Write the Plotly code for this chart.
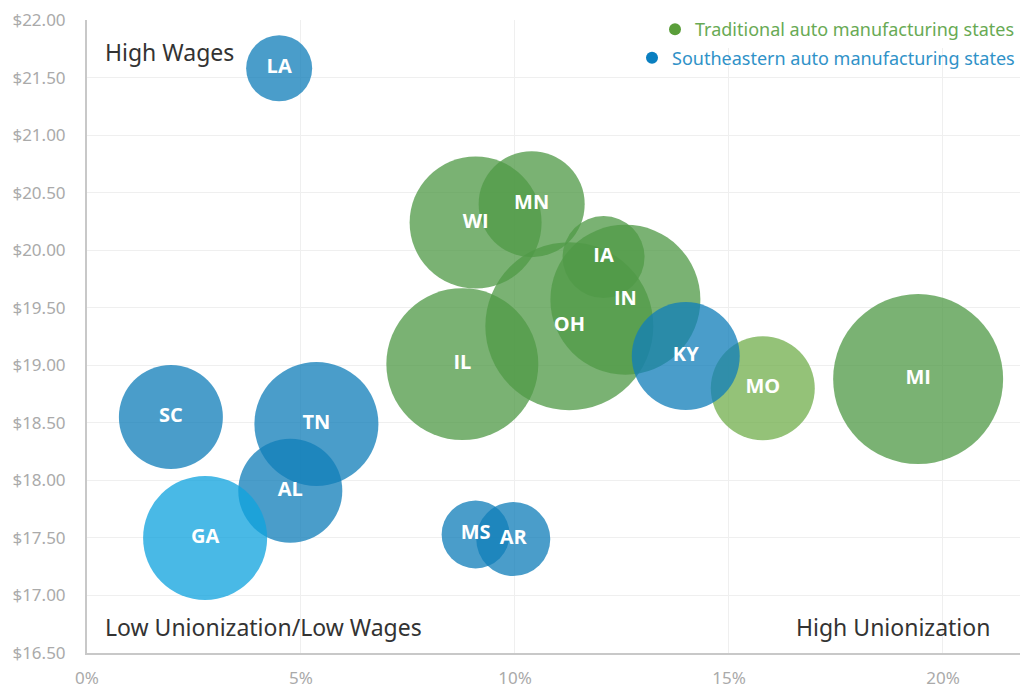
import plotly.graph_objects as go

# Traditional auto manufacturing states
trad_states = ["IL", "OH", "WI", "MN", "IA", "IN", "MO", "MI"]
trad_union = [8.77, 11.27, 9.08, 10.39, 12.07, 12.58, 15.79, 19.42]
trad_wage = [19.01, 19.34, 20.24, 20.40, 19.94, 19.57, 18.80, 18.88]
trad_size = [115.5, 141.1, 87.1, 56.2, 33.6, 112.5, 54.1, 144.5]
trad_colors = ["rgb(80,154,71)"] * 6 + ["rgb(114,175,78)", "rgb(80,154,71)"]

# Southeastern auto manufacturing states
se_states = ["LA", "SC", "TN", "AL", "GA", "MS", "AR", "KY"]
se_union = [4.49, 1.96, 5.36, 4.75, 2.76, 9.08, 9.96, 13.99]
se_wage = [21.58, 18.55, 18.49, 17.91, 17.50, 17.53, 17.49, 19.08]
se_size = [21.8, 54.1, 76.9, 54.1, 76.9, 23.1, 27.4, 58.3]
se_colors = ["rgb(17,126,185)"] * 4 + ["rgb(16,163,222)"] + ["rgb(17,126,185)"] * 3

y_ticks = [16.5, 17.0, 17.5, 18.0, 18.5, 19.0, 19.5, 20.0, 20.5, 21.0, 21.5, 22.0]
y_tick_text = ["$%.2f" % v for v in y_ticks]
x_ticks = [0, 5, 10, 15, 20]
x_tick_text = ["0%", "5%", "10%", "15%", "20%"]

SIZEREF = 2 / 200.0
LABEL_FONT = dict(color="white", size=20, family="Open Sans", weight="bold")

fig = go.Figure()

fig.add_trace(go.Scatter(
    x=trad_union, y=trad_wage, text=trad_states, mode="markers+text",
    marker=dict(size=trad_size, sizemode="area", sizeref=SIZEREF,
                color=trad_colors, opacity=0.76, line=dict(width=0)),
    textfont=LABEL_FONT, textposition="middle center",
    hoverinfo="skip", showlegend=False,
))
fig.add_trace(go.Scatter(
    x=se_union, y=se_wage, text=se_states, mode="markers+text",
    marker=dict(size=se_size, sizemode="area", sizeref=SIZEREF,
                color=se_colors, opacity=0.76, line=dict(width=0)),
    textfont=LABEL_FONT, textposition="middle center",
    hoverinfo="skip", showlegend=False,
))

# legend entries (two right-aligned legends)
fig.add_trace(go.Scatter(
    x=[None], y=[None], mode="markers",
    marker=dict(size=11, color="rgb(90,158,58)"),
    name="<span style='color:rgb(104,170,84)'>Traditional auto manufacturing states</span>",
    legend="legend",
))
fig.add_trace(go.Scatter(
    x=[None], y=[None], mode="markers",
    marker=dict(size=11, color="rgb(10,127,192)"),
    name="<span style='color:rgb(48,146,200)'>Southeastern auto manufacturing states</span>",
    legend="legend2",
))

legend_common = dict(xanchor="right", yanchor="middle",
                     font=dict(size=18, family="Noto Sans"), itemsizing="constant",
                     itemwidth=30)

fig.update_layout(
    width=1021, height=690,
    margin=dict(l=87, r=1, t=20, b=31),
    paper_bgcolor="white", plot_bgcolor="white",
    font=dict(family="Noto Sans", color="#333"),
    legend=dict(x=1.0, y=0.985, bgcolor="white", **legend_common),
    legend2=dict(x=1.0, y=0.94, bgcolor="rgba(255,255,255,0)", **legend_common),
    xaxis=dict(range=[0, 21.8], tickvals=x_ticks, ticktext=x_tick_text,
               showgrid=True, gridcolor="#efefef", gridwidth=1,
               showline=True, linecolor="#c8c8c8", linewidth=2,
               zeroline=False, ticks="", ticklabelstandoff=9,
               tickfont=dict(size=17, color="#aaaaaa", family="Noto Sans")),
    yaxis=dict(range=[16.5, 22.0], tickvals=y_ticks, ticktext=y_tick_text,
               showgrid=True, gridcolor="#efefef", gridwidth=1,
               showline=True, linecolor="#c8c8c8", linewidth=2,
               zeroline=False, ticks="", ticklabelstandoff=16,
               tickfont=dict(size=17, color="#aaaaaa", family="Noto Sans")),
    annotations=[
        dict(text="High Wages", x=0.017, y=0.95, xref="paper", yref="paper",
             xanchor="left", yanchor="middle", showarrow=False,
             font=dict(size=23, color="#333", family="Noto Sans")),
        dict(text="Low Unionization/Low Wages", x=0.017, y=0.041, xref="paper", yref="paper",
             xanchor="left", yanchor="middle", showarrow=False,
             font=dict(size=23, color="#333", family="Noto Sans")),
        dict(text="High Unionization", x=0.97, y=0.041, xref="paper", yref="paper",
             xanchor="right", yanchor="middle", showarrow=False,
             font=dict(size=23, color="#333", family="Noto Sans")),
    ],
)

fig.write_html("out.html")
